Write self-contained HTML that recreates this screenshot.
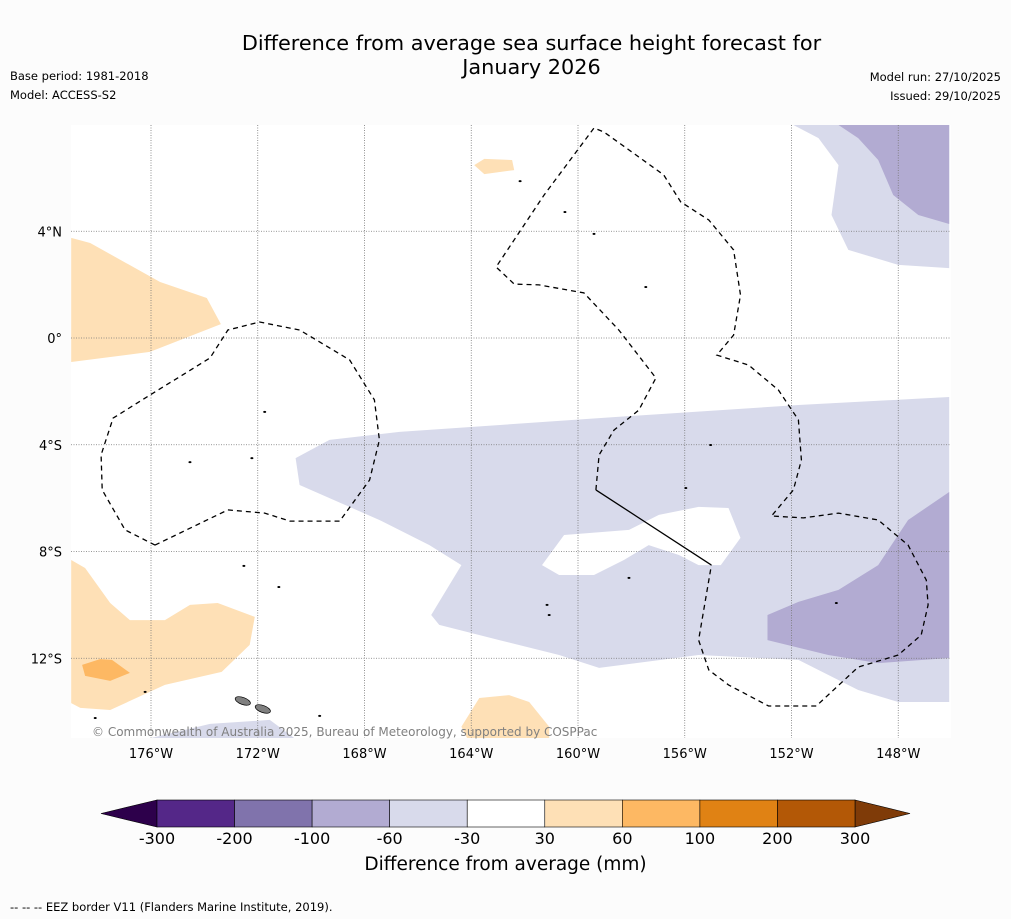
<!DOCTYPE html>
<html><head><meta charset="utf-8"><style>
body{margin:0;background:#fcfcfc;font-family:"DejaVu Sans",sans-serif;}
#wrap{position:relative;width:1011px;height:919px;overflow:hidden;background:#fcfcfc;}
.t{position:absolute;white-space:nowrap;color:#000;}
</style></head><body>
<div id="wrap">
<div class="t" style="left:0;width:1063px;text-align:center;top:31px;font-size:20.8px;line-height:24px;">Difference from average sea surface height forecast for<br>January 2026</div>
<div class="t" style="left:10px;top:69px;font-size:11.5px;">Base period: 1981-2018</div>
<div class="t" style="left:10px;top:88px;font-size:11.5px;">Model: ACCESS-S2</div>
<div class="t" style="right:10px;top:70px;font-size:11.5px;">Model run: 27/10/2025</div>
<div class="t" style="right:10px;top:89px;font-size:11.5px;">Issued: 29/10/2025</div>
<svg id="map" width="1011" height="919" style="position:absolute;left:0;top:0"></svg>
<div class="t" style="left:0;width:1011px;text-align:center;top:854px;font-size:18.5px;">Difference from average (mm)</div>
<div class="t" style="left:10px;top:900px;font-size:11.5px;">--  --  -- EEZ border V11 (Flanders Marine Institute, 2019).</div>
</div>
<script>
const lonTicks=[-176,-172,-168,-164,-160,-156,-152,-148];
const latTicks=[4,0,-4,-8,-12];
const cbLevels=[-300,-200,-100,-60,-30,30,60,100,200,300];
const cbColors=['#542788','#8073ac','#b2abd2','#d8daeb','#ffffff','#fee0b6','#fdb863','#e08214','#b35806'];
const lavLight=[[-170.58,-4.5],[-169.31,-3.82],[-166.69,-3.52],[-159.21,-3.0],[-151.74,-2.51],[-146.09,-2.21],[-146.09,-13.64],[-148.0,-13.64],[-149.5,-13.19],[-151.74,-12.06],[-155.48,-11.88],[-159.21,-12.36],[-160.71,-11.88],[-162.95,-11.32],[-165.2,-10.75],[-165.5,-10.38],[-164.37,-8.51],[-165.57,-7.76],[-167.44,-6.82],[-170.43,-5.51]];
const lavHole=[[-161.35,-8.51],[-160.52,-7.38],[-158.09,-7.19],[-156.97,-6.63],[-155.48,-6.33],[-154.36,-6.37],[-153.91,-7.49],[-154.65,-8.51],[-155.48,-8.51],[-156.22,-8.13],[-157.35,-7.76],[-158.28,-8.32],[-159.4,-8.88],[-160.71,-8.88]];
const lavTR=[[-151.93,7.98],[-146.09,7.98],[-146.09,2.62],[-148.0,2.74],[-149.87,3.3],[-150.5,4.61],[-150.24,6.48],[-150.99,7.49]];
const lavTRdark=[[-150.24,7.98],[-146.09,7.98],[-146.09,4.27],[-147.25,4.61],[-148.19,5.36],[-148.75,6.67],[-149.5,7.49]];
const lavBRdark=[[-152.9,-10.38],[-151.74,-9.89],[-150.24,-9.44],[-148.75,-8.51],[-147.63,-6.82],[-146.09,-5.77],[-146.09,-11.99],[-148.75,-12.18],[-150.62,-11.88],[-152.9,-11.32]];
const lavStrip=[[-176.04,-15],[-173.79,-14.46],[-171.55,-14.31],[-170.62,-15]];
const orTL=[[-178.99,3.75],[-178.28,3.56],[-175.66,2.1],[-173.91,1.5],[-173.38,0.52],[-176.04,-0.52],[-178.99,-0.9]];
const orBL=[[-178.99,-8.32],[-178.47,-8.62],[-177.53,-9.93],[-176.79,-10.57],[-175.48,-10.57],[-174.54,-10.0],[-173.5,-9.93],[-172.11,-10.45],[-172.3,-11.5],[-173.35,-12.51],[-175.48,-13.0],[-177.53,-13.94],[-178.65,-13.86],[-178.99,-13.68]];
const orDark=[[-178.58,-12.25],[-177.91,-12.03],[-177.46,-12.06],[-176.79,-12.55],[-177.53,-12.85],[-178.47,-12.66]];
const orTop=[[-163.89,6.48],[-163.51,6.71],[-162.47,6.67],[-162.39,6.29],[-163.51,6.14]];
const orBot=[[-164.37,-14.57],[-163.7,-13.49],[-162.58,-13.38],[-161.83,-13.64],[-161.08,-14.57],[-161.08,-15.0],[-164.15,-15.0]];
const eezLeft=[[-175.85,-7.76],[-176.97,-7.19],[-177.83,-5.69],[-177.87,-4.38],[-177.42,-3.0],[-176.04,-2.14],[-173.79,-0.75],[-173.12,0.3],[-171.93,0.6],[-170.43,0.3],[-168.56,-0.82],[-167.63,-2.32],[-167.44,-3.82],[-167.81,-5.32],[-168.93,-6.86],[-170.8,-6.86],[-171.74,-6.56],[-173.12,-6.44],[-175.85,-7.76]];
const eezMid=[[-159.33,-5.69],[-159.21,-4.38],[-158.65,-3.45],[-157.72,-2.7],[-157.08,-1.5],[-158.47,0.3],[-159.78,1.69],[-161.46,1.99],[-162.39,2.02],[-163.07,2.66],[-161.27,5.36],[-159.4,7.87],[-159.03,7.72],[-157.83,6.86],[-156.79,6.11],[-156.15,5.1],[-155.1,4.42],[-154.17,3.3],[-153.91,1.61],[-154.17,0.11],[-154.8,-0.64],[-153.61,-1.01],[-152.49,-1.95],[-151.74,-3.07],[-151.63,-4.57],[-151.93,-5.69],[-152.75,-6.67],[-151.55,-6.74],[-150.24,-6.56],[-148.75,-6.82],[-147.63,-7.76],[-146.95,-9.07],[-146.88,-10.0],[-147.14,-11.13],[-148.0,-11.88],[-149.5,-12.33],[-151.07,-13.79],[-152.86,-13.79],[-154.36,-13.0],[-155.1,-12.44],[-155.48,-11.32],[-155.0,-8.51]];
const eezSolid=[[-159.33,-5.69],[-155.0,-8.51]];
const islands=[[-171.74,-2.77],[-174.54,-4.65],[-172.22,-4.5],[-159.4,3.9],[-157.46,1.91],[-160.49,4.72],[-162.17,5.88],[-155.03,-4.01],[-155.96,-5.62],[-161.16,-10.0],[-161.08,-10.38],[-158.09,-8.99],[-150.32,-9.93],[-176.22,-13.26],[-172.52,-8.54],[-171.21,-9.33],[-178.09,-14.24],[-169.68,-14.16]];
const grayIslands=[[-172.56,-13.6],[-171.81,-13.9]];

const X0=71,X1=951,Y0=125,Y1=738;
const xs=lon=>151+(lon+176)/4*106.75;
const ys=lat=>338-lat/4*106.75;
const svg=document.getElementById('map');
const NS='http://www.w3.org/2000/svg';
const FF='DejaVu Sans, sans-serif';
function mk(tag,attrs){const e=document.createElementNS(NS,tag);for(const k in attrs)e.setAttribute(k,attrs[k]);svg.appendChild(e);return e;}
const pts=a=>a.map(p=>xs(p[0]).toFixed(1)+','+ys(p[1]).toFixed(1)).join(' ');
const defs=mk('defs',{});
const cp=document.createElementNS(NS,'clipPath');cp.setAttribute('id','clip');defs.appendChild(cp);
const cr=document.createElementNS(NS,'rect');cr.setAttribute('x',X0);cr.setAttribute('y',Y0);cr.setAttribute('width',X1-X0);cr.setAttribute('height',Y1-Y0);cp.appendChild(cr);
let bg=mk('rect',{x:X0,y:Y0,width:X1-X0,height:Y1-Y0,fill:'#ffffff'});


const g=mk('g',{'clip-path':'url(#clip)'});
function poly(a,fill,name){const e=document.createElementNS(NS,'path');
 let d='M'+pts(a).split(' ').join('L')+'Z';e.setAttribute('d',d);e.setAttribute('fill',fill);g.appendChild(e);
 
 return e;}
{const e=document.createElementNS(NS,'path');
 e.setAttribute('d','M'+pts(lavLight).split(' ').join('L')+'Z M'+pts(lavHole).split(' ').join('L')+'Z');
 e.setAttribute('fill','#d8daeb');e.setAttribute('fill-rule','evenodd');g.appendChild(e);
 
 }
poly(lavTR,'#d8daeb','contour-lavender-northeast');
poly(lavTRdark,'#b2abd2','contour-purple-northeast');
poly(lavBRdark,'#b2abd2','contour-purple-southeast');
poly(lavStrip,'#d8daeb','contour-lavender-southwest');
poly(orTL,'#fee0b6','contour-orange-northwest');
poly(orBL,'#fee0b6','contour-orange-southwest');
poly(orDark,'#fdb863','contour-darkorange-southwest');
poly(orTop,'#fee0b6','contour-orange-north');
poly(orBot,'#fee0b6','contour-orange-south');
lonTicks.forEach(l=>{const e=document.createElementNS(NS,'line');const x=xs(l);
 e.setAttribute('x1',x);e.setAttribute('x2',x);e.setAttribute('y1',Y0);e.setAttribute('y2',Y1);
 e.setAttribute('stroke','#777');e.setAttribute('stroke-width','0.8');e.setAttribute('stroke-dasharray','1,1.5');g.appendChild(e);
 
 
 const t=mk('text',{x:x,y:758,'font-size':13,'text-anchor':'middle','font-family':FF});
 t.textContent=Math.abs(l)+'°'+(l<0?'W':'E');
 
 });
latTicks.forEach(l=>{const e=document.createElementNS(NS,'line');const y=ys(l);
 e.setAttribute('x1',X0);e.setAttribute('x2',X1);e.setAttribute('y1',y);e.setAttribute('y2',y);
 e.setAttribute('stroke','#777');e.setAttribute('stroke-width','0.8');e.setAttribute('stroke-dasharray','1,1.5');g.appendChild(e);
 
 
 const t=mk('text',{x:62,y:y+5,'font-size':13,'text-anchor':'end','font-family':FF});
 t.textContent=l===0?'0°':Math.abs(l)+'°'+(l>0?'N':'S');
 
 });
islands.forEach(p=>{const e=document.createElementNS(NS,'ellipse');e.setAttribute('cx',xs(p[0]));e.setAttribute('cy',ys(p[1]));
 e.setAttribute('rx',1.5);e.setAttribute('ry',1);e.setAttribute('fill','#000');g.appendChild(e);
 
 });
grayIslands.forEach(p=>{const e=document.createElementNS(NS,'ellipse');e.setAttribute('cx',xs(p[0]));e.setAttribute('cy',ys(p[1]));
 e.setAttribute('rx',8);e.setAttribute('ry',3.5);e.setAttribute('fill','#808080');e.setAttribute('stroke','#000');e.setAttribute('stroke-width','0.7');
 e.setAttribute('transform','rotate(20 '+xs(p[0])+' '+ys(p[1])+')');g.appendChild(e);
 
 });
function line(a,dash,name){const e=document.createElementNS(NS,'polyline');e.setAttribute('points',pts(a));e.setAttribute('fill','none');
 e.setAttribute('stroke','#000');e.setAttribute('stroke-width','1.3');if(dash)e.setAttribute('stroke-dasharray','5,4');g.appendChild(e);
 
 }
line(eezLeft,true,'eez-border-west');
line(eezMid,true,'eez-border-east');
line(eezSolid,false,'eez-border-solid');
let cred=mk('text',{x:92,y:736,'font-size':12,fill:'#808080','font-family':FF});
cred.textContent='© Commonwealth of Australia 2025, Bureau of Meteorology, supported by COSPPac';


const cbX0=157,cbX1=855,cbY=800,cbH=27,seg=(cbX1-cbX0)/(cbLevels.length-1);
const cbx=i=>cbX0+i*seg;
let lt=mk('polygon',{points:`101,${cbY+cbH/2} ${cbX0},${cbY} ${cbX0},${cbY+cbH}`,fill:'#2d004b',stroke:'#000','stroke-width':0.6});


let rt=mk('polygon',{points:`910,${cbY+cbH/2} ${cbX1},${cbY} ${cbX1},${cbY+cbH}`,fill:'#7f3b08',stroke:'#000','stroke-width':0.6});


cbColors.forEach((c,i)=>{const r=mk('rect',{x:cbx(i),y:cbY,width:seg,height:cbH,fill:c,stroke:'#000','stroke-width':0.6});
 
 });
cbLevels.forEach((v,i)=>{const t=mk('text',{x:cbx(i),y:844,'font-size':16,'text-anchor':'middle','font-family':FF});
 t.textContent=v;
 
 });
</script>
</body></html>
